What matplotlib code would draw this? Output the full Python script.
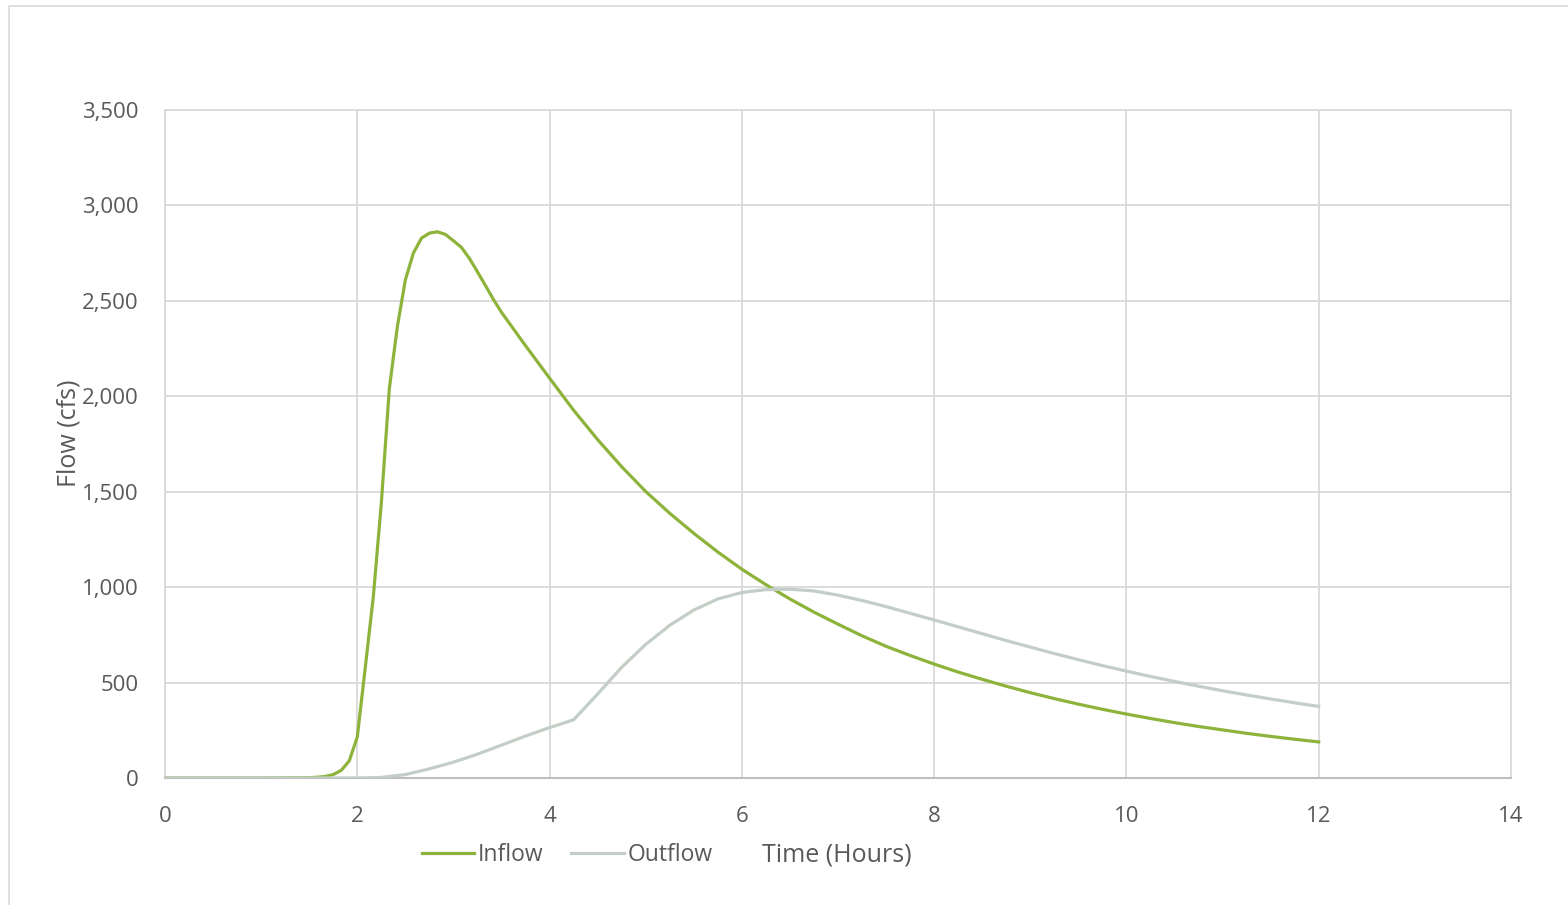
import matplotlib
matplotlib.use("Agg")
import matplotlib.pyplot as plt
from matplotlib.patches import Rectangle

plt.rcParams['font.family'] = ['Open Sans', 'DejaVu Sans']

# Time (hours) and flows (cfs)
inflow_time = [0, 0.5, 1.0, 1.25, 1.5, 1.5833, 1.6667, 1.75, 1.8333, 1.9167, 2.0,
               2.0833, 2.1667, 2.25, 2.3333, 2.4167, 2.5, 2.5833, 2.6667, 2.75,
               2.8333, 2.9167, 3.0, 3.0833, 3.1667, 3.25, 3.3333, 3.4167, 3.5,
               3.75, 4.0, 4.25, 4.5, 4.75, 5.0, 5.25, 5.5, 5.75, 6.0, 6.25, 6.5,
               6.75, 7.0, 7.25, 7.5, 7.75, 8.0, 8.25, 8.5, 8.75, 9.0, 9.25, 9.5,
               9.75, 10.0, 10.25, 10.5, 10.75, 11.0, 11.25, 11.5, 11.75, 12.0]
inflow = [0, 0, 0, 1, 2, 4, 8, 18, 40, 90, 215,
          580, 950, 1440, 2040, 2365, 2610, 2750, 2828, 2855,
          2862, 2848, 2815, 2780, 2722, 2652, 2580, 2507, 2440,
          2265, 2095, 1927, 1773, 1631, 1501, 1387, 1282, 1184, 1094, 1013, 938,
          869, 806, 745, 690, 642, 597, 555, 517, 481, 447, 416, 387,
          360, 335, 312, 290, 270, 252, 234, 218, 203, 189]

outflow_time = [0, 1.0, 2.0, 2.1, 2.25, 2.5, 2.75, 3.0, 3.25, 3.5, 3.75,
                4.0, 4.25, 4.5, 4.75, 5.0, 5.25, 5.5, 5.75, 6.0, 6.25, 6.5,
                6.75, 7.0, 7.25, 7.5, 7.75, 8.0, 8.25, 8.5, 8.75, 9.0, 9.25,
                9.5, 9.75, 10.0, 10.25, 10.5, 10.75, 11.0, 11.25, 11.5, 11.75, 12.0]
outflow = [0, 0, 0, 1, 3, 18, 48, 83, 125, 172, 220,
           264, 305, 440, 580, 700, 800, 880, 938, 972, 987, 989,
           980, 958, 930, 898, 863, 828, 792, 756, 720, 686, 652,
           620, 589, 560, 532, 506, 481, 457, 435, 414, 394, 375]

x_ticks = [0, 2, 4, 6, 8, 10, 12, 14]
y_ticks = [0, 500, 1000, 1500, 2000, 2500, 3000, 3500]

W, H = 1568, 905
fig = plt.figure(figsize=(W / 100, H / 100), dpi=100)
fig.patch.set_facecolor('white')

# outer chart border
fig.patches.append(Rectangle((8.5 / W, -0.1), 1.2, (H - 6.5) / H + 0.1,
                             transform=fig.transFigure, fill=False,
                             edgecolor='#D9D9D9', linewidth=1.2))

ax = fig.add_axes([165 / W, 1 - 778 / H, (1511 - 165) / W, (778 - 110) / H])

grid_c = '#D9D9D9'
text_c = '#595959'

ax.plot(inflow_time, inflow, color='#8DB33B', linewidth=2.3, label='Inflow',
        solid_joinstyle='round', zorder=3)
ax.plot(outflow_time, outflow, color='#C3CEC6', linewidth=2.3, label='Outflow',
        solid_joinstyle='round', zorder=3)

ax.set_xlim(0, 14)
ax.set_ylim(0, 3500)
ax.set_xticks(x_ticks)
ax.set_yticks(y_ticks)
ax.set_yticklabels([f"{v:,}" for v in y_ticks])
ax.grid(True, color=grid_c, linewidth=1.3)
ax.set_axisbelow(True)
for s in ['top', 'right', 'left']:
    ax.spines[s].set_color(grid_c)
    ax.spines[s].set_linewidth(1.3)
ax.spines['bottom'].set_color('#BFBFBF')
ax.spines['bottom'].set_linewidth(1.5)

ax.tick_params(axis='both', length=0, labelsize=16, colors=text_c)
ax.tick_params(axis='y', pad=19)
ax.tick_params(axis='x', pad=20)

ax.set_ylabel('Flow (cfs)', fontsize=18, color=text_c)
ax.yaxis.set_label_coords(-0.062, 0.516)

leg = fig.legend(loc='center', bbox_to_anchor=(567 / W, 1 - 855 / H), ncol=2,
                 frameon=False, fontsize=16.5, handlelength=2.3, handletextpad=0.15,
                 columnspacing=1.2, borderpad=0)
for t in leg.get_texts():
    t.set_color(text_c)

fig.text(837 / W, 1 - 855 / H, 'Time (Hours)', fontsize=18, color=text_c,
         ha='center', va='center')

fig.savefig('out.png', dpi=100, facecolor='white')
